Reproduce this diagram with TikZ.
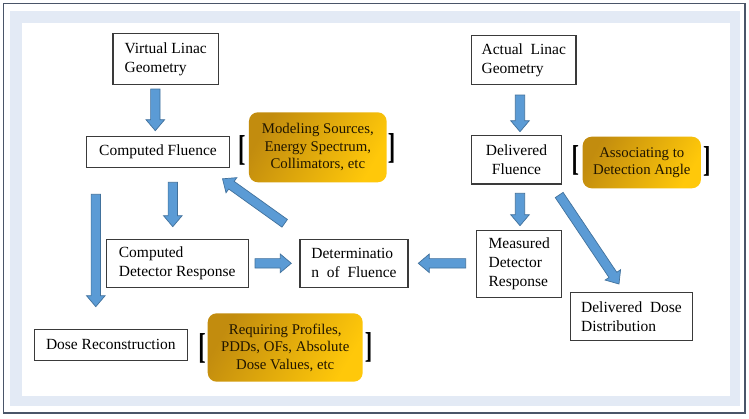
\documentclass[tikz,border=0pt]{standalone}
\usepackage{fontspec}
\usepackage{graphicx}
\setmainfont{Liberation Serif}
\usetikzlibrary{calc}
\definecolor{arrowfill}{HTML}{5B9BD5}
\definecolor{arrowline}{HTML}{41719C}
\definecolor{goldA}{HTML}{C28C0E}
\definecolor{goldB}{HTML}{FFC80A}
\definecolor{goldtext}{HTML}{201500}
\definecolor{boxline}{HTML}{3A3A3A}
\definecolor{framedark}{HTML}{4A5568}
\definecolor{bandcol}{HTML}{E3EAF5}
\newcommand\blockarrow[2]{%
  \coordinate (ba-base) at ($(#2)!11pt!(#1)$);
  \draw[barrow] ($(#1)!4.7pt!90:(#2)$) -- ($(ba-base)!4.7pt!90:(#2)$) -- ($(ba-base)!9.3pt!90:(#2)$) -- (#2) -- ($(ba-base)!9.3pt!-90:(#2)$) -- ($(ba-base)!4.7pt!-90:(#2)$) -- ($(#1)!4.7pt!-90:(#2)$) -- cycle;
}
\tikzset{
  box/.style={draw=boxline, line width=1.1pt, fill=white, inner sep=0pt, font=\fontsize{15.5}{19}\selectfont, text=black},
  goldbox/.style={rounded corners=9pt, left color=goldA, right color=goldB, shading angle=60, inner sep=0pt, align=center, font=\fontsize{14.8}{17.5}\selectfont, text=goldtext},
  brk/.style={inner sep=0pt, font=\fontsize{36}{36}\selectfont\bfseries, text=black},
  barrow/.style={fill=arrowfill, draw=arrowline, line width=0.7pt, line join=miter},
}
\begin{document}
\begin{tikzpicture}[x=1pt,y=-1pt]
\useasboundingbox (0,0) rectangle (749,418);
\fill[white] (0,0) rectangle (749,418);
\draw[draw=framedark, line width=1.5pt] (3.5,3.5) rectangle (745,413);
\fill[bandcol] (10,11) rectangle (740,406);
\fill[white] (21.5,22.5) rectangle (730,395.5);

% boxes
\node[box, minimum width=105.5pt, minimum height=51pt, align=left] (vlg) at (165.7,58.8) {Virtual Linac\\Geometry};
\node[box, minimum width=142.7pt, minimum height=31pt, align=center] (cf) at (158,152.2) {Computed Fluence};
\node[box, minimum width=142.3pt, minimum height=48.3pt, align=left] (cdr) at (177.2,263.2) {Computed\\Detector Response};
\node[box, minimum width=108pt, minimum height=48.3pt, align=left] (det) at (354,263.2) {Determinatio\\n\ \ of\ \ Fluence};
\node[box, minimum width=85pt, minimum height=67.4pt, align=left] (mdr) at (519.2,264) {Measured\\Detector\\Response};
\node[box, minimum width=121.6pt, minimum height=48.4pt, align=left] (ddd) at (631.5,316.5) {Delivered\ \ Dose\\Distribution};
\node[box, minimum width=104.3pt, minimum height=48.6pt, align=left] (alg) at (523.8,60) {Actual\ \ Linac\\Geometry};
\node[box, minimum width=89.6pt, minimum height=48.3pt, align=center] (dfl) at (516.5,159.8) {Delivered\\Fluence};
\node[box, minimum width=153pt, minimum height=31.3pt, align=center] (dr) at (110.8,344.7) {Dose Reconstruction};

% gold boxes
\node[goldbox, minimum width=137.7pt, minimum height=70pt] (g1) at (317.8,147.3) {Modeling Sources,\\Energy Spectrum,\\Collimators, etc};
\node[goldbox, minimum width=118.3pt, minimum height=51.6pt] (g2) at (641.8,162.5) {Associating to\\Detection Angle};
\node[goldbox, minimum width=155pt, minimum height=68.4pt] (g3) at (285.2,347.5) {Requiring Profiles,\\PDDs, OFs, Absolute\\Dose Values, etc};

% brackets
\node[brk] (b1l) at (241.8,150.3) {\scalebox{0.62}[1]{[}};
\node[brk] (b1r) at (391.5,148.8) {\scalebox{0.62}[1]{]}};
\node[brk] (b2l) at (575.3,160) {\scalebox{0.62}[1]{[}};
\node[brk] (b2r) at (706.8,161.7) {\scalebox{0.62}[1]{]}};
\node[brk] (b3l) at (202,348.3) {\scalebox{0.62}[1]{[}};
\node[brk] (b3r) at (368.5,347.5) {\scalebox{0.62}[1]{]}};

% arrow end points
\coordinate (a1s) at (155.3,89);    \coordinate (a1e) at (155.3,130.7);
\coordinate (a2s) at (172.8,182.3); \coordinate (a2e) at (172.8,226.7);
\coordinate (a3s) at (95.8,194.3);  \coordinate (a3e) at (95.8,306.7);
\coordinate (a4s) at (255,263.3);   \coordinate (a4e) at (291.3,263.3);
\coordinate (a5s) at (465.7,263.3); \coordinate (a5e) at (418.3,263.3);
\coordinate (a6s) at (284.7,223.3); \coordinate (a6e) at (222.5,178.8);
\coordinate (a7s) at (520,95);      \coordinate (a7e) at (520,131.7);
\coordinate (a8s) at (520,193.3);   \coordinate (a8e) at (520,225.7);
\coordinate (a9s) at (559.2,195);   \coordinate (a9e) at (619,284);

\blockarrow{a1s}{a1e}
\blockarrow{a2s}{a2e}
\blockarrow{a3s}{a3e}
\blockarrow{a4s}{a4e}
\blockarrow{a5s}{a5e}
\blockarrow{a6s}{a6e}
\blockarrow{a7s}{a7e}
\blockarrow{a8s}{a8e}
\blockarrow{a9s}{a9e}
\end{tikzpicture}
\end{document}
